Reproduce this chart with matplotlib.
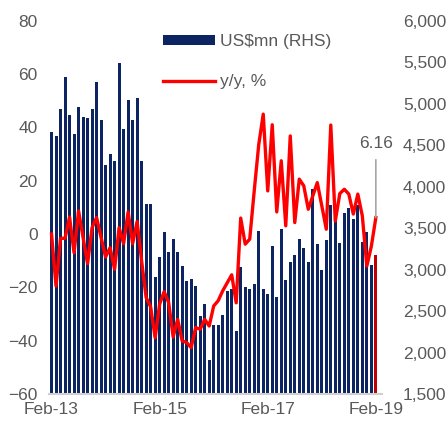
import matplotlib
matplotlib.use("Agg")
import matplotlib.pyplot as plt
import numpy as np

plt.rcParams['font.family'] = ['Liberation Sans', 'DejaVu Sans']

# monthly, Feb-13 .. Feb-19
months = ['Feb-13', 'Mar-13', 'Apr-13', 'May-13', 'Jun-13', 'Jul-13', 'Aug-13', 'Sep-13',
          'Oct-13', 'Nov-13', 'Dec-13', 'Jan-14', 'Feb-14', 'Mar-14', 'Apr-14', 'May-14',
          'Jun-14', 'Jul-14', 'Aug-14', 'Sep-14', 'Oct-14', 'Nov-14', 'Dec-14', 'Jan-15',
          'Feb-15', 'Mar-15', 'Apr-15', 'May-15', 'Jun-15', 'Jul-15', 'Aug-15', 'Sep-15',
          'Oct-15', 'Nov-15', 'Dec-15', 'Jan-16', 'Feb-16', 'Mar-16', 'Apr-16', 'May-16',
          'Jun-16', 'Jul-16', 'Aug-16', 'Sep-16', 'Oct-16', 'Nov-16', 'Dec-16', 'Jan-17',
          'Feb-17', 'Mar-17', 'Apr-17', 'May-17', 'Jun-17', 'Jul-17', 'Aug-17', 'Sep-17',
          'Oct-17', 'Nov-17', 'Dec-17', 'Jan-18', 'Feb-18', 'Mar-18', 'Apr-18', 'May-18',
          'Jun-18', 'Jul-18', 'Aug-18', 'Sep-18', 'Oct-18', 'Nov-18', 'Dec-18', 'Jan-19',
          'Feb-19']

# US$mn (RHS)
usd_mn = [4661, 4610, 4940, 5325, 4865, 4640, 4965, 4840, 4830, 4940, 5265, 4805,
          4265, 4400, 4310, 5490, 4700, 5045, 4805, 5070, 4310, 3790, 3790, 2915,
          3155, 3450, 3215, 3370, 3215, 3040, 2860, 2890, 2800, 2440, 2590, 1910,
          2330, 2330, 2450, 2745, 2770, 2260, 3035, 2785, 2765, 2825, 3465, 2770,
          2705, 3285, 2670, 3495, 2875, 3095, 3180, 3365, 3260, 3095, 3970, 3305,
          2995, 3360, 3775, 3640, 3320, 3680, 3740, 3610, 3775, 3330, 3450, 3060,
          3180]

# y/y, %
yoy = [0.0, -19.5, -1.6, -1.6, 6.4, -7.0, 8.7, -1.3, -11.1, 2.4, 6.2, -1.3,
       -8.6, -5.1, -13.2, 2.4, -3.6, 8.3, -3.6, 4.7, -10.1, -23.8, -27.3, -38.9,
       -26.3, -21.6, -25.7, -38.6, -32.0, -40.1, -40.7, -42.6, -35.1, -35.7, -32.0, -34.5,
       -27.0, -25.0, -21.3, -18.3, -15.3, -25.8, 6.0, -3.8, -1.9, 16.2, 33.5, 45.0,
       16.2, 41.0, 8.3, 27.5, 3.1, 36.8, 4.3, 20.6, 18.1, 9.3, 14.3, 19.3,
       10.6, 1.8, 40.9, 4.9, 15.2, 16.8, 15.0, 7.5, 15.0, 6.8, -12.0, -4.6,
       6.16]

tick_labels = ['Feb-13', 'Feb-15', 'Feb-17', 'Feb-19']

navy = '#0c2461'
red = '#ff0000'
grey_txt = '#595959'

x = np.arange(len(months))
bar_colors = [navy] * (len(months) - 1) + ['#c00000']

fig = plt.figure(figsize=(4.48, 4.25), dpi=100)
ax = fig.add_axes([0.109, 0.073, 0.744, 0.878])
ax2 = ax.twinx()

# bars on the base axes (drawn underneath), shown on the right
bars = ax.bar(x, usd_mn, width=0.66, color=bar_colors, label='US$mn (RHS)')
ax.set_ylim(1500, 6000)
ax.set_yticks(np.arange(1500, 6001, 500))
ax.set_yticklabels([f'{v:,}' for v in range(1500, 6001, 500)])
ax.yaxis.tick_right()

line, = ax2.plot(x, yoy, color=red, lw=2.4, label='y/y, %')
ax2.set_ylim(-60, 80)
ax2.set_yticks(np.arange(-60, 81, 20))
ax2.yaxis.tick_left()

ax.set_xlim(-0.6, len(months) + 0.4)
ax.set_xticks([months.index(t) for t in tick_labels])
ax.set_xticklabels(tick_labels)

for a in (ax, ax2):
    for s in a.spines.values():
        s.set_visible(False)
    a.tick_params(length=0, labelsize=12.5, colors=grey_txt)
ax.spines['bottom'].set_visible(True)
ax.spines['bottom'].set_color('#d0d0d0')
ax.spines['bottom'].set_linewidth(1.5)
ax.tick_params(axis='y', pad=15)
ax2.tick_params(axis='y', pad=8)
ax.tick_params(axis='x', pad=6)

ax2.annotate(f'{yoy[-1]:.2f}', xy=(x[-1], yoy[-1]), xytext=(x[-1], 31),
             ha='center', va='bottom', fontsize=12.5, color=grey_txt,
             arrowprops=dict(arrowstyle='-', color='#a6a6a6', lw=1.2,
                             shrinkA=4, shrinkB=0))

fig.legend(handles=[bars, line], loc='upper left', bbox_to_anchor=(0.345, 0.94),
           frameon=False, fontsize=12.5, labelcolor=grey_txt,
           handlelength=3.0, handleheight=0.5, handletextpad=0.25,
           labelspacing=1.45, borderpad=0)

fig.savefig('out.png', dpi=100)
